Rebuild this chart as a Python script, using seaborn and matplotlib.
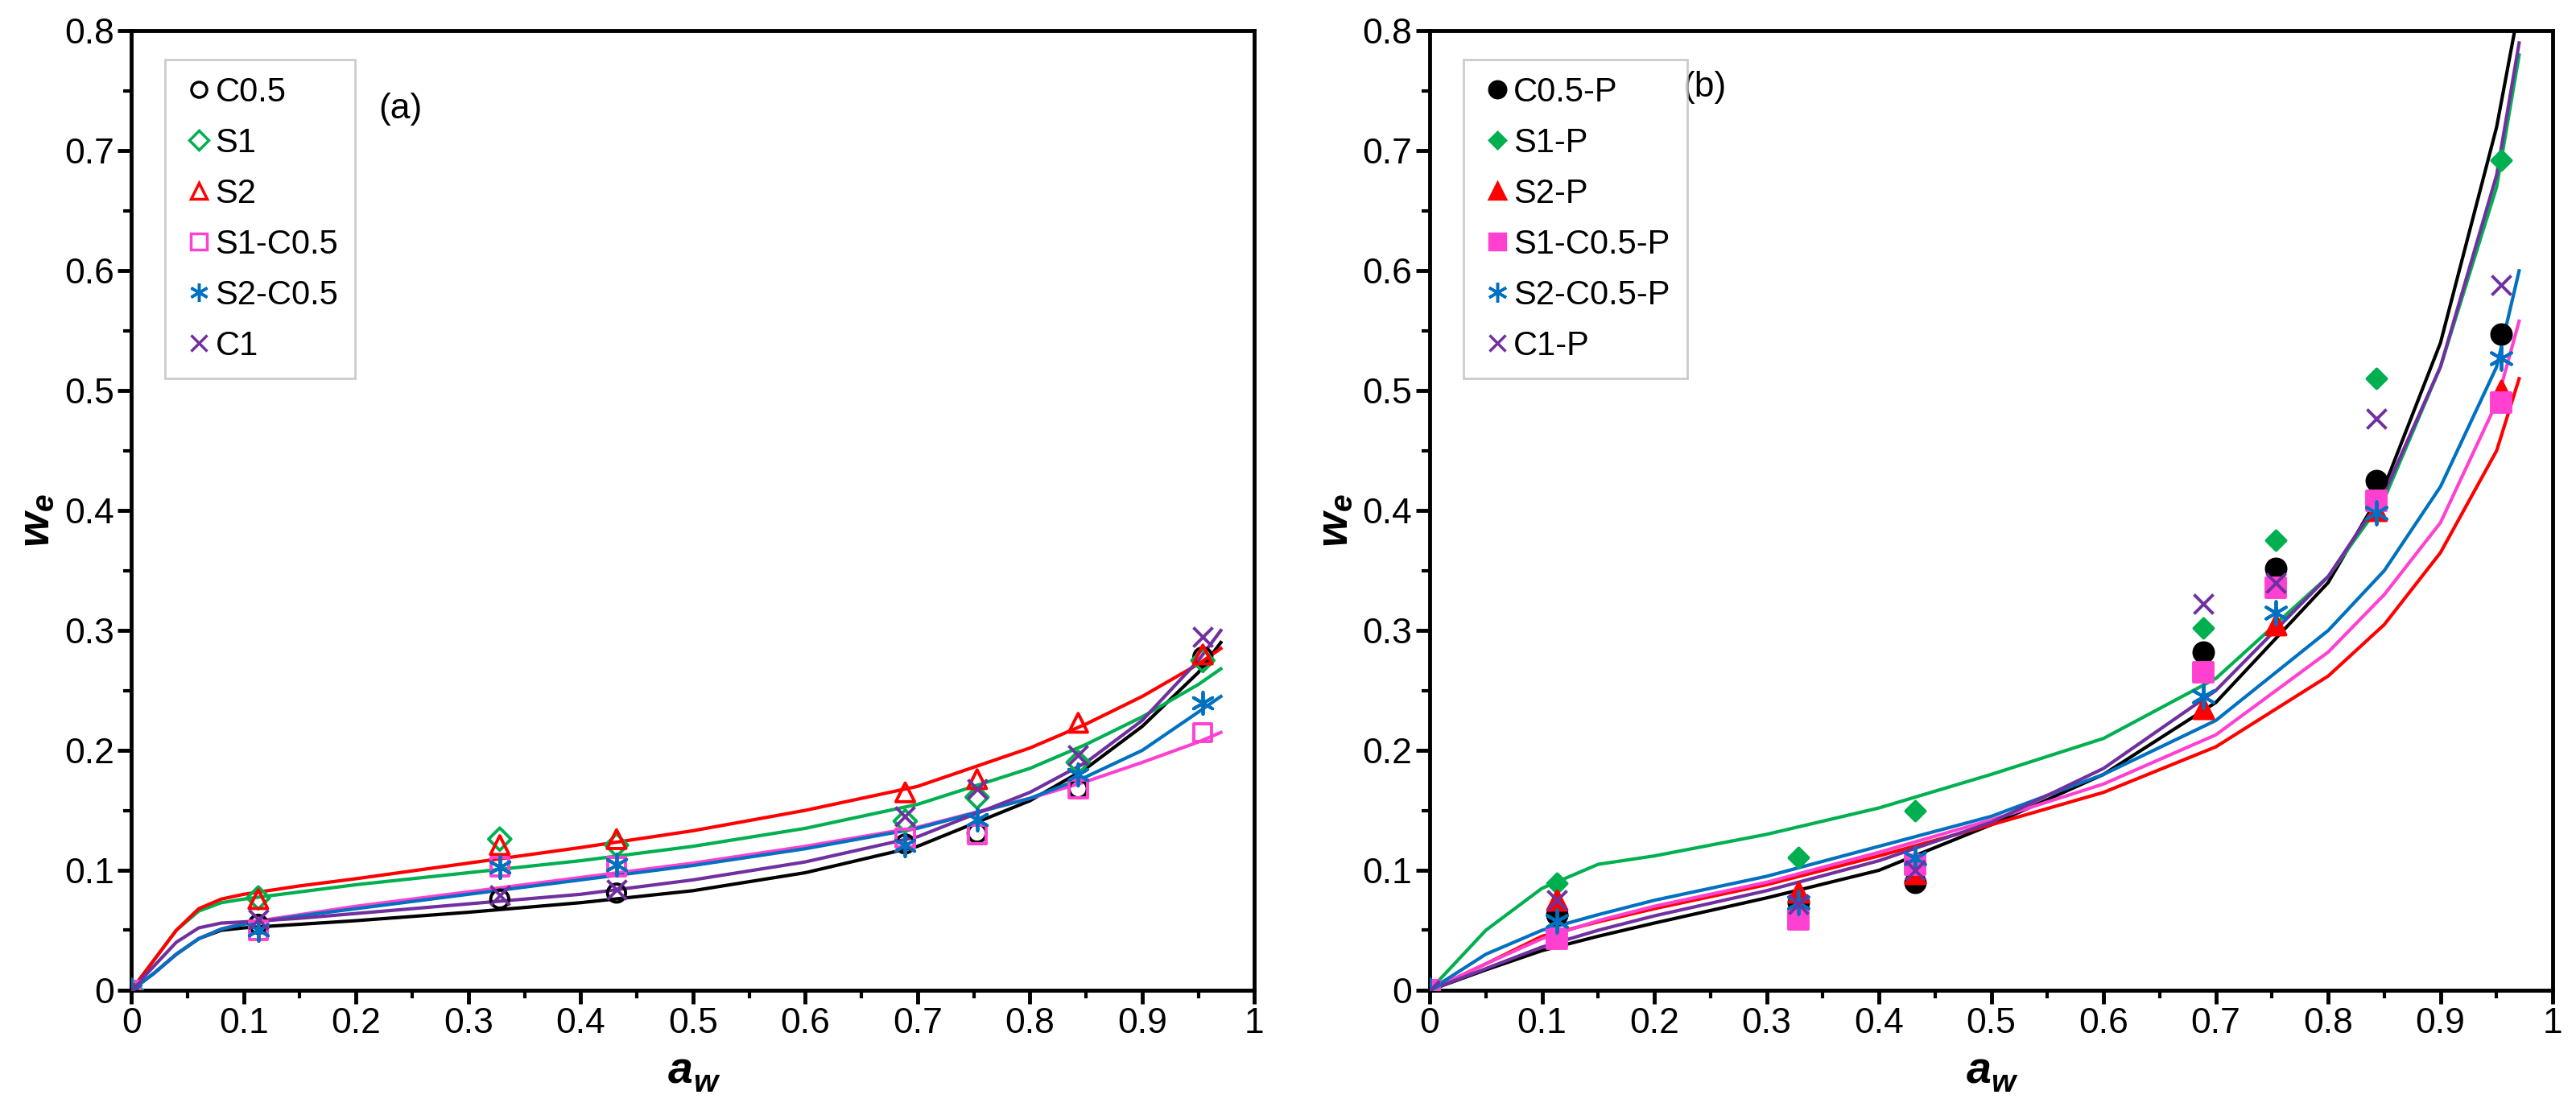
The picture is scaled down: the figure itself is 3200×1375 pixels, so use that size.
import numpy as np
import pandas as pd
import seaborn as sns
import matplotlib
matplotlib.use("Agg")
import matplotlib.pyplot as plt
from matplotlib.lines import Line2D
from matplotlib.ticker import MultipleLocator

plt.rcParams["font.family"] = "Liberation Sans"

aw = [0, 0.113, 0.328, 0.432, 0.689, 0.753, 0.843, 0.954]

names_a = ["C0.5", "S1", "S2", "S1-C0.5", "S2-C0.5", "C1"]
pts_a = {
    "C0.5":    [0, 0.055, 0.076, 0.081, 0.122, 0.131, 0.168, 0.278],
    "S1":      [0, 0.077, 0.126, 0.121, 0.141, 0.161, 0.190, 0.275],
    "S2":      [0, 0.076, 0.121, 0.126, 0.165, 0.176, 0.223, 0.280],
    "S1-C0.5": [0, 0.050, 0.103, 0.103, 0.127, 0.130, 0.168, 0.215],
    "S2-C0.5": [0, 0.050, 0.103, 0.105, 0.121, 0.142, 0.180, 0.240],
    "C1":      [0, 0.059, 0.079, 0.084, 0.145, 0.168, 0.196, 0.295],
}
fit_x_a = [0, 0.02, 0.04, 0.06, 0.08, 0.1, 0.15, 0.2, 0.3, 0.4, 0.5, 0.6, 0.7, 0.8, 0.85, 0.9, 0.95, 0.97]
fit_a = {
    "S2":      [0, 0.025, 0.05, 0.068, 0.076, 0.080, 0.087, 0.093, 0.106, 0.119, 0.133, 0.150, 0.170, 0.202, 0.222, 0.245, 0.272, 0.285],
    "S1":      [0, 0.025, 0.05, 0.066, 0.073, 0.076, 0.082, 0.088, 0.098, 0.108, 0.120, 0.135, 0.155, 0.185, 0.205, 0.228, 0.255, 0.268],
    "S2-C0.5": [0, 0.014, 0.03, 0.043, 0.051, 0.055, 0.062, 0.068, 0.080, 0.092, 0.104, 0.118, 0.135, 0.160, 0.178, 0.200, 0.232, 0.245],
    "S1-C0.5": [0, 0.014, 0.03, 0.043, 0.051, 0.056, 0.063, 0.070, 0.082, 0.094, 0.106, 0.120, 0.136, 0.160, 0.174, 0.190, 0.207, 0.215],
    "C1":      [0, 0.020, 0.04, 0.052, 0.056, 0.057, 0.060, 0.064, 0.072, 0.080, 0.092, 0.107, 0.128, 0.165, 0.190, 0.225, 0.275, 0.300],
    "C0.5":    [0, 0.014, 0.03, 0.043, 0.050, 0.052, 0.055, 0.058, 0.065, 0.073, 0.083, 0.098, 0.120, 0.158, 0.185, 0.220, 0.265, 0.290],
}

names_b = ["C0.5-P", "S1-P", "S2-P", "S1-C0.5-P", "S2-C0.5-P", "C1-P"]
pts_b = {
    "C0.5-P":    [0, 0.063, 0.073, 0.090, 0.282, 0.352, 0.425, 0.547],
    "S1-P":      [0, 0.089, 0.111, 0.150, 0.302, 0.375, 0.510, 0.692],
    "S2-P":      [0, 0.075, 0.082, 0.097, 0.235, 0.305, 0.400, 0.500],
    "S1-C0.5-P": [0, 0.043, 0.059, 0.105, 0.265, 0.336, 0.408, 0.490],
    "S2-C0.5-P": [0, 0.058, 0.073, 0.110, 0.245, 0.315, 0.398, 0.527],
    "C1-P":      [0, 0.075, 0.072, 0.100, 0.322, 0.340, 0.477, 0.588],
}
fit_x_b = [0, 0.05, 0.1, 0.15, 0.2, 0.3, 0.4, 0.5, 0.6, 0.7, 0.8, 0.85, 0.9, 0.95, 0.97]
fit_b = {
    "C0.5-P":    [0, 0.017, 0.033, 0.045, 0.056, 0.077, 0.100, 0.138, 0.180, 0.240, 0.340, 0.420, 0.540, 0.720, 0.820],
    "C1-P":      [0, 0.018, 0.036, 0.050, 0.062, 0.083, 0.108, 0.140, 0.185, 0.250, 0.345, 0.415, 0.520, 0.680, 0.790],
    "S1-P":      [0, 0.050, 0.085, 0.105, 0.112, 0.130, 0.152, 0.180, 0.210, 0.260, 0.345, 0.410, 0.520, 0.670, 0.780],
    "S2-C0.5-P": [0, 0.030, 0.050, 0.063, 0.075, 0.095, 0.120, 0.145, 0.180, 0.225, 0.300, 0.350, 0.420, 0.520, 0.600],
    "S1-C0.5-P": [0, 0.022, 0.043, 0.058, 0.070, 0.090, 0.115, 0.142, 0.172, 0.213, 0.282, 0.330, 0.390, 0.490, 0.558],
    "S2-P":      [0, 0.022, 0.045, 0.057, 0.068, 0.088, 0.112, 0.138, 0.165, 0.203, 0.262, 0.305, 0.365, 0.450, 0.510],
}

colors = ["#000000", "#00B050", "#FF0000", "#FF40D0", "#0070C0", "#7030A0"]
markers = ["o", "D", "^", "s", (6, 2, 0), "x"]
sizes = [260, 200, 280, 260, 380, 300]
sizes_b = [300, 150, 300, 300, 420, 300]

fig = plt.figure(figsize=(32, 13.75), dpi=100)
axA = fig.add_axes([0.051, 0.1055, 0.436, 0.8665])
axB = fig.add_axes([0.555, 0.1055, 0.436, 0.8665])


def draw(ax, names, pts, fx, fits, filled, sz, tag, tagxy):
    for i, n in enumerate(names):
        sns.lineplot(x=fx, y=fits[n], ax=ax, color=colors[i], lw=3, sort=False,
                     estimator=None, legend=False)
    handles = []
    for i, n in enumerate(names):
        m = markers[i]
        hollow = (not filled) and m not in ("x", (6, 2, 0))
        if hollow:
            sns.scatterplot(x=aw, y=pts[n], ax=ax, marker=m, s=sz[i], facecolor="none",
                            edgecolor=colors[i], linewidth=2.8, zorder=5, legend=False)
        else:
            sns.scatterplot(x=aw, y=pts[n], ax=ax, marker=m, s=sz[i], color=colors[i],
                            edgecolor=colors[i], linewidth=2.8, zorder=5, legend=False)
        handles.append(Line2D([], [], ls="", marker=m, markersize=np.sqrt(sz[i]) * 0.85,
                              markerfacecolor=("none" if hollow else colors[i]),
                              markeredgecolor=colors[i], markeredgewidth=2.5, label=n))
    leg = ax.legend(handles=handles, loc="upper left", bbox_to_anchor=(0.03, 0.97),
                    fontsize=30, frameon=True, fancybox=False, handletextpad=0.0,
                    handlelength=1.0, labelspacing=0.55, borderpad=0.5, borderaxespad=0)
    leg.get_frame().set_edgecolor("#BFBFBF")
    leg.get_frame().set_linewidth(2)
    ax.text(tagxy[0], tagxy[1], tag, fontsize=32, transform=ax.transData)
    ax.set_xlim(0, 1)
    ax.set_ylim(0, 0.8)
    ax.xaxis.set_major_locator(MultipleLocator(0.1))
    ax.xaxis.set_minor_locator(MultipleLocator(0.05))
    ax.yaxis.set_major_locator(MultipleLocator(0.1))
    ax.yaxis.set_minor_locator(MultipleLocator(0.05))
    ax.set_xticklabels(["0" if abs(v) < 1e-9 else ("1" if abs(v - 1) < 1e-9 else f"{v:.1f}")
                        for v in ax.get_xticks()])
    ax.set_yticklabels(["0" if abs(v) < 1e-9 else f"{v:.1f}" for v in ax.get_yticks()])
    ax.tick_params(which="major", length=12, width=3.5, labelsize=32, direction="out")
    ax.tick_params(which="minor", length=7, width=3, direction="out")
    for s in ax.spines.values():
        s.set_linewidth(3.5)
    ax.set_xlabel(r"$\boldsymbol{a_w}$" if False else "", fontsize=40)
    ax.text(0.5, -0.085, "a", transform=ax.transAxes, fontsize=40, fontweight="bold",
            style="italic", ha="right", va="center")
    ax.text(0.5, -0.097, "w", transform=ax.transAxes, fontsize=28, fontweight="bold",
            style="italic", ha="left", va="center")
    ax.set_ylabel("")
    ax.text(-0.085, 0.5, "w", transform=ax.transAxes, fontsize=40, fontweight="bold",
            style="italic", rotation=90, ha="center", va="top")
    ax.text(-0.077, 0.5, "e", transform=ax.transAxes, fontsize=28, fontweight="bold",
            style="italic", rotation=90, ha="center", va="bottom")


draw(axA, names_a, pts_a, fit_x_a, fit_a, False, sizes, "(a)", (0.22, 0.727))
draw(axB, names_b, pts_b, fit_x_b, fit_b, True, sizes_b, "(b)", (0.225, 0.745))

fig.savefig("out.png", dpi=100)
